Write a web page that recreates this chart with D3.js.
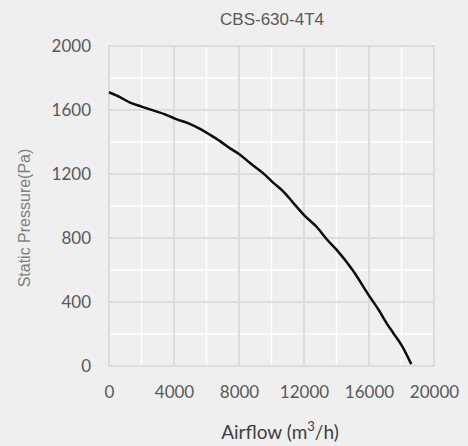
<!DOCTYPE html>
<html>
<head>
<meta charset="utf-8">
<script src="https://cdn.jsdelivr.net/npm/d3@7"></script>
<style>
  html, body { margin: 0; padding: 0; background: #efefef; }
  svg { display: block; }
</style>
</head>
<body>
<script>
const title = "CBS-630-4T4";
const airflow = [0, 700, 1300, 2000, 2750, 3450, 4100, 4900, 5600, 6200, 6850, 7450, 8000, 8700, 9500, 10100, 10750, 11350, 12050, 12800, 13400, 14000, 15000, 16000, 16600, 17100, 17500, 18000, 18600];
const pressure = [1711, 1679, 1646, 1621, 1596, 1573, 1544, 1517, 1482, 1446, 1404, 1360, 1325, 1267, 1204, 1146, 1089, 1018, 938, 867, 792, 727, 598, 440, 350, 265, 205, 130, 12];
const xTicks = [0, 4000, 8000, 12000, 16000, 20000];
const yTicks = [0, 400, 800, 1200, 1600, 2000];
const xMinor = [2000, 6000, 10000, 14000, 18000];
const yMinor = [200, 600, 1000, 1400, 1800];

const W = 468, H = 446;
const pL = 109, pR = 434, pT = 46, pB = 366;

const svg = d3.select("body").append("svg").attr("width", W).attr("height", H);
svg.append("rect").attr("width", W).attr("height", H).attr("fill", "#efefef");

const x = d3.scaleLinear().domain([0, 20000]).range([pL, pR]);
const y = d3.scaleLinear().domain([0, 2000]).range([pB, pT]);

const g = svg.append("g");
g.selectAll(".vx").data(xMinor).enter().append("line")
  .attr("x1", d => x(d)).attr("x2", d => x(d)).attr("y1", pT).attr("y2", pB)
  .attr("stroke", "#ffffff").attr("stroke-width", 1.5);
g.selectAll(".hy").data(yMinor).enter().append("line")
  .attr("y1", d => y(d)).attr("y2", d => y(d)).attr("x1", pL).attr("x2", pR)
  .attr("stroke", "#ffffff").attr("stroke-width", 1.5);
g.selectAll(".vX").data(xTicks).enter().append("line")
  .attr("x1", d => x(d)).attr("x2", d => x(d)).attr("y1", pT - 1).attr("y2", pB + 1)
  .attr("stroke", "#dcdcdc").attr("stroke-width", 2);
g.selectAll(".hY").data(yTicks).enter().append("line")
  .attr("y1", d => y(d)).attr("y2", d => y(d)).attr("x1", pL - 1).attr("x2", pR + 1)
  .attr("stroke", "#dcdcdc").attr("stroke-width", 2);

const xAxis = svg.append("g").attr("transform", `translate(0,${pB})`)
  .call(d3.axisBottom(x).tickValues(xTicks).tickSize(0).tickPadding(20).tickFormat(d3.format("d")));
const yAxis = svg.append("g").attr("transform", `translate(${pL},0)`)
  .call(d3.axisLeft(y).tickValues(yTicks).tickSize(0).tickPadding(18).tickFormat(d3.format("d")));
[xAxis, yAxis].forEach(a => {
  a.select(".domain").remove();
  a.selectAll("text").attr("font-family", "Lato, 'Open Sans', sans-serif")
    .attr("font-size", 17).attr("fill", "#595959");
});

const pts = airflow.map((a, i) => [a, pressure[i]]);
svg.append("path").datum(pts)
  .attr("d", d3.line().curve(d3.curveMonotoneX).x(d => x(d[0])).y(d => y(d[1])))
  .attr("fill", "none").attr("stroke", "#0d0d0d").attr("stroke-width", 2.5)
  .attr("stroke-linejoin", "round");

svg.append("text").attr("x", 272).attr("y", 25).attr("text-anchor", "middle")
  .attr("font-family", "'Liberation Sans', Arial, sans-serif").attr("font-size", 17)
  .attr("fill", "#595959").text(title);

const xt = svg.append("text").attr("x", 280).attr("y", 439).attr("text-anchor", "middle")
  .attr("font-family", "Lato, 'Open Sans', sans-serif").attr("font-size", 19).attr("fill", "#404040");
xt.append("tspan").text("Airflow (m");
xt.append("tspan").attr("dy", -8).attr("font-size", 13).text("3");
xt.append("tspan").attr("dy", 8).text("/h)");

svg.append("text").attr("transform", "translate(30,218) rotate(-90)").attr("text-anchor", "middle")
  .attr("font-family", "'Liberation Sans', Arial, sans-serif").attr("font-size", 16)
  .attr("fill", "#7f7f7f").text("Static Pressure(Pa)");
</script>
</body>
</html>
